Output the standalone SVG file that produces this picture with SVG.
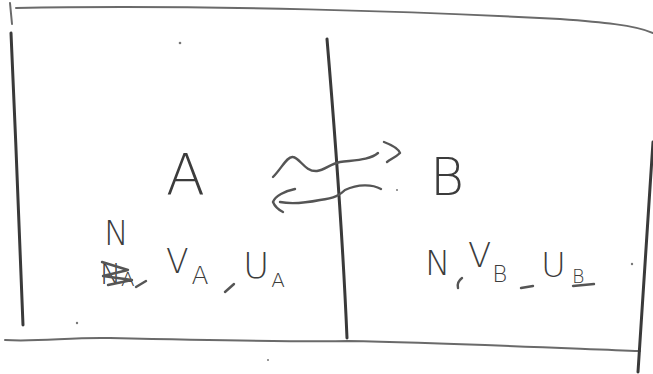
<svg xmlns="http://www.w3.org/2000/svg" width="653" height="374" viewBox="0 0 653 374">
<style>
.frame{fill:none;stroke:#6a6a6a;stroke-width:2;stroke-linecap:round;stroke-linejoin:round}
.wall{fill:none;stroke:#3a3a3a;stroke-width:3;stroke-linecap:round}
.ink{fill:none;stroke:#555;stroke-width:2.4;stroke-linecap:round;stroke-linejoin:round}
.t{font-family:"DejaVu Sans","Liberation Sans",sans-serif;font-weight:200;fill:#3c3c3c}
.dot{fill:#777}
</style>
<rect width="653" height="374" fill="#fff"/>
<g id="frame">
<path class="frame" d="M16,8 C200,4 430,12 560,19 C600,22 635,25 653,33"/>
<path class="frame" d="M5,340 C40,342 70,337 110,338 C200,340 300,342 348,341 C450,343 560,348 640,351"/>
<path class="frame" d="M10,3 L12,24" stroke-width="1.2"/>
<path class="wall" d="M11,33 C15,130 20,230 23,325"/>
<path class="wall" d="M653,142 C648,220 642,300 638,372"/>
</g>
<g id="wall-AB">
<path class="wall" d="M327,39 C333,110 342,220 347,338"/>
</g>
<g id="node-A">
<text class="t" x="166" y="195" font-size="57">A</text>
<text class="t" x="104" y="245" font-size="33">N</text>
<text class="t" x="100" y="284" font-size="28">N<tspan font-size="20" dy="2">A</tspan></text>
<path class="ink" d="M102,262 L128,270 L103,276 L132,280 L108,285" stroke-width="2"/>
<path class="ink" d="M136,287 L146,281"/>
<text class="t" x="166" y="273" font-size="33">V<tspan font-size="25" dx="3" dy="11">A</tspan></text>
<path class="ink" d="M225,292 L234,284"/>
<text class="t" x="243" y="278" font-size="36">U<tspan font-size="20" dx="2" dy="9">A</tspan></text>
</g>
<g id="node-B">
<text class="t" x="430" y="195" font-size="52">B</text>
<text class="t" x="425" y="275" font-size="34">N</text>
<path class="ink" d="M462,278 C458,281 457,284 458,288"/>
<text class="t" x="468" y="267" font-size="34">V<tspan font-size="23" dx="1" dy="15">B</tspan></text>
<path class="ink" d="M521,288 L533,286"/>
<text class="t" x="541" y="277" font-size="34">U<tspan font-size="19" dx="6" dy="6">B</tspan></text>
<path class="ink" d="M573,286 L594,284"/>
</g>
<g id="connectors">
<path class="ink" d="M273,177 C282,168 287,156 293,157 C300,158 305,172 317,171 C325,170 330,164 340,162 C355,160 370,160 378,153"/>
<path class="ink" d="M384,142 C392,145 398,148 400,153 C396,157 391,159 387,162"/>
<path class="ink" d="M381,189 C372,184 358,184 345,190 C340,195 335,198 320,200 C305,203 290,204 280,202"/>
<path class="ink" d="M295,189 C285,191 275,196 273,202 C275,207 279,210 283,212"/>
</g>
<g id="specks">
<circle class="dot" cx="180" cy="43" r="1.3"/>
<circle class="dot" cx="77" cy="323" r="1.2"/>
<circle class="dot" cx="632" cy="264" r="1.2"/>
<circle class="dot" cx="268" cy="360" r="1"/>
<circle class="dot" cx="397" cy="190" r="1"/>
</g>
</svg>
